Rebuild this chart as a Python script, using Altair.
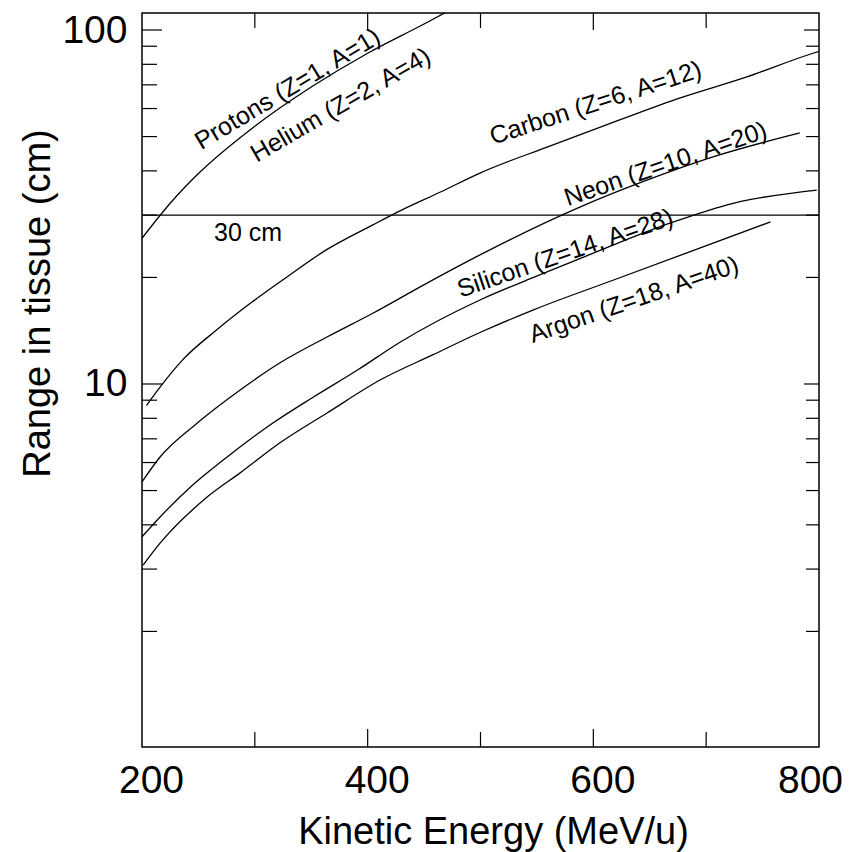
import altair as alt
import pandas as pd

# ---- data ----
energy_p_he = [200, 225, 250, 300, 350, 400, 450, 480]
range_p_he = [25.8, 32.4, 39.3, 53.5, 69.0, 86.0, 104.0, 117.0]

energy_carbon = [204, 216, 236, 266, 296, 325, 364, 405, 430, 464, 500, 559, 618, 677, 736, 790, 800]
range_carbon = [8.7, 9.8, 11.7, 14.2, 16.9, 19.7, 24.0, 28.2, 31.0, 34.8, 39.5, 46.7, 54.9, 64.3, 73.7, 85.0, 87.0]

energy_neon = [200, 216, 249, 287, 322, 364, 405, 449, 500, 588, 648, 706, 783]
range_neon = [5.29, 6.22, 7.76, 9.62, 11.46, 13.58, 15.87, 19.0, 23.2, 31.6, 37.7, 43.8, 51.2]

energy_silicon = [200, 216, 243, 272, 316, 352, 391, 429, 500, 547, 588, 671, 724, 798]
range_silicon = [3.70, 4.21, 5.12, 6.10, 7.76, 9.19, 10.95, 13.14, 17.3, 20.0, 22.6, 28.7, 32.4, 35.3]

energy_argon = [201, 216, 258, 287, 322, 364, 411, 458, 500, 547, 618, 757]
range_argon = [3.08, 3.55, 4.80, 5.61, 6.81, 8.28, 10.26, 12.1, 14.0, 16.2, 19.67, 28.7]

reference_range = [30]

label_texts = ["Protons (Z=1, A=1)", "Helium (Z=2, A=4)", "Carbon (Z=6, A=12)",
               "Neon (Z=10, A=20)", "Silicon (Z=14, A=28)", "Argon (Z=18, A=40)", "30 cm"]
label_energy = [329, 376, 602, 664, 575, 636, 294]
label_range = [68.1, 61.4, 62.2, 41.8, 23.4, 17.3, 26.7]
label_angle = [329, 330, 342, 341, 341, 341, 0]

x_ticks_major = [400, 600]
x_ticks_minor = [300, 500, 700]
y_ticks_major = [10, 100]
y_ticks_minor = [2, 3, 4, 5, 6, 7, 8, 9, 20, 30, 40, 50, 60, 70, 80, 90]

x_labels = [200, 400, 600, 800]
y_labels = [10, 100]

# ---- tables ----
series = [("p_he", energy_p_he, range_p_he), ("carbon", energy_carbon, range_carbon),
          ("neon", energy_neon, range_neon), ("silicon", energy_silicon, range_silicon),
          ("argon", energy_argon, range_argon)]
rows = []
for name, es, rs in series:
    for i, (e, r) in enumerate(zip(es, rs)):
        rows.append({"series": name, "E": e, "R": r, "order": i})
lines_df = pd.DataFrame(rows)
labels_df = pd.DataFrame({"text": label_texts, "E": label_energy, "R": label_range, "angle": label_angle})

W, H = 677, 734
FONT = "Liberation Sans"

xs = alt.Scale(domain=[200, 800], nice=False, zero=False)
ys = alt.Scale(type="log", domain=[0.943, 111.7], nice=False)

x_axis = alt.Axis(values=x_labels, format="d", ticks=False, domain=False, grid=False,
                  labelFontSize=39, labelPadding=14, labelFlush=False, labelColor="black",
                  labelOffset={"condition": {"test": "datum.value >= 800", "value": -9}, "value": 9},
                  labelFont=FONT, titleFont=FONT,
                  title="Kinetic Energy (MeV/u)", titleFontSize=38, titleFontWeight="normal",
                  titleColor="black", titleX=351, titleY=96, titleAlign="center",
                  titleBaseline="alphabetic")
y_axis = alt.Axis(values=y_labels, format="d", ticks=False, domain=False, grid=False,
                  labelFontSize=39, labelPadding=15, labelColor="black",
                  labelFont=FONT, titleFont=FONT,
                  title="Range in tissue (cm)", titleFontSize=38, titleFontWeight="normal",
                  titleColor="black", titleX=-93, titleY=290, titleAngle=270,
                  titleAlign="center", titleBaseline="alphabetic")

lines = alt.Chart(lines_df).mark_line(color="black", strokeWidth=1.3, clip=True,
                                      interpolate="monotone").encode(
    x=alt.X("E:Q", scale=xs, axis=x_axis),
    y=alt.Y("R:Q", scale=ys, axis=y_axis),
    detail="series:N",
    order="order:Q",
)

ref_line = alt.Chart(pd.DataFrame({"R": reference_range})).mark_rule(
    color="black", strokeWidth=1.4).encode(y=alt.Y("R:Q", scale=ys, axis=y_axis))

texts = alt.Chart(labels_df).mark_text(font=FONT, fontSize=25, color="black",
                                       align="center", baseline="middle").encode(
    x=alt.X("E:Q", scale=xs, axis=x_axis),
    y=alt.Y("R:Q", scale=ys, axis=y_axis),
    text="text:N",
    angle=alt.Angle("angle:Q", scale=None),
)


def yticks(vals, x0, x1):
    return alt.Chart(pd.DataFrame({"R": vals})).mark_rule(color="black", strokeWidth=1.2).encode(
        y=alt.Y("R:Q", scale=ys, axis=y_axis), x=alt.value(x0), x2=alt.value(x1))


def xticks(vals, y0, y1):
    return alt.Chart(pd.DataFrame({"E": vals})).mark_rule(color="black", strokeWidth=1.2).encode(
        x=alt.X("E:Q", scale=xs, axis=x_axis), y=alt.value(y0), y2=alt.value(y1))


tick_layers = [
    yticks(y_ticks_major, 0, 20), yticks(y_ticks_minor, 0, 15),
    yticks(y_ticks_major, W - 15, W), yticks(y_ticks_minor, W - 13, W),
    xticks(x_ticks_major, H, H - 18), xticks(x_ticks_minor, H, H - 15),
    xticks(x_ticks_major, 0, 17), xticks(x_ticks_minor, 0, 15),
]

chart = alt.layer(lines, ref_line, texts, *tick_layers).properties(
    width=W, height=H,
    background="white",
    autosize=alt.AutoSizeParams(type="none"),
    padding={"left": 134, "top": 5, "right": 26, "bottom": 105},
).configure_view(stroke="black", strokeWidth=1.5)

chart.save("out.html", embed_options={"renderer": "svg", "actions": False})
